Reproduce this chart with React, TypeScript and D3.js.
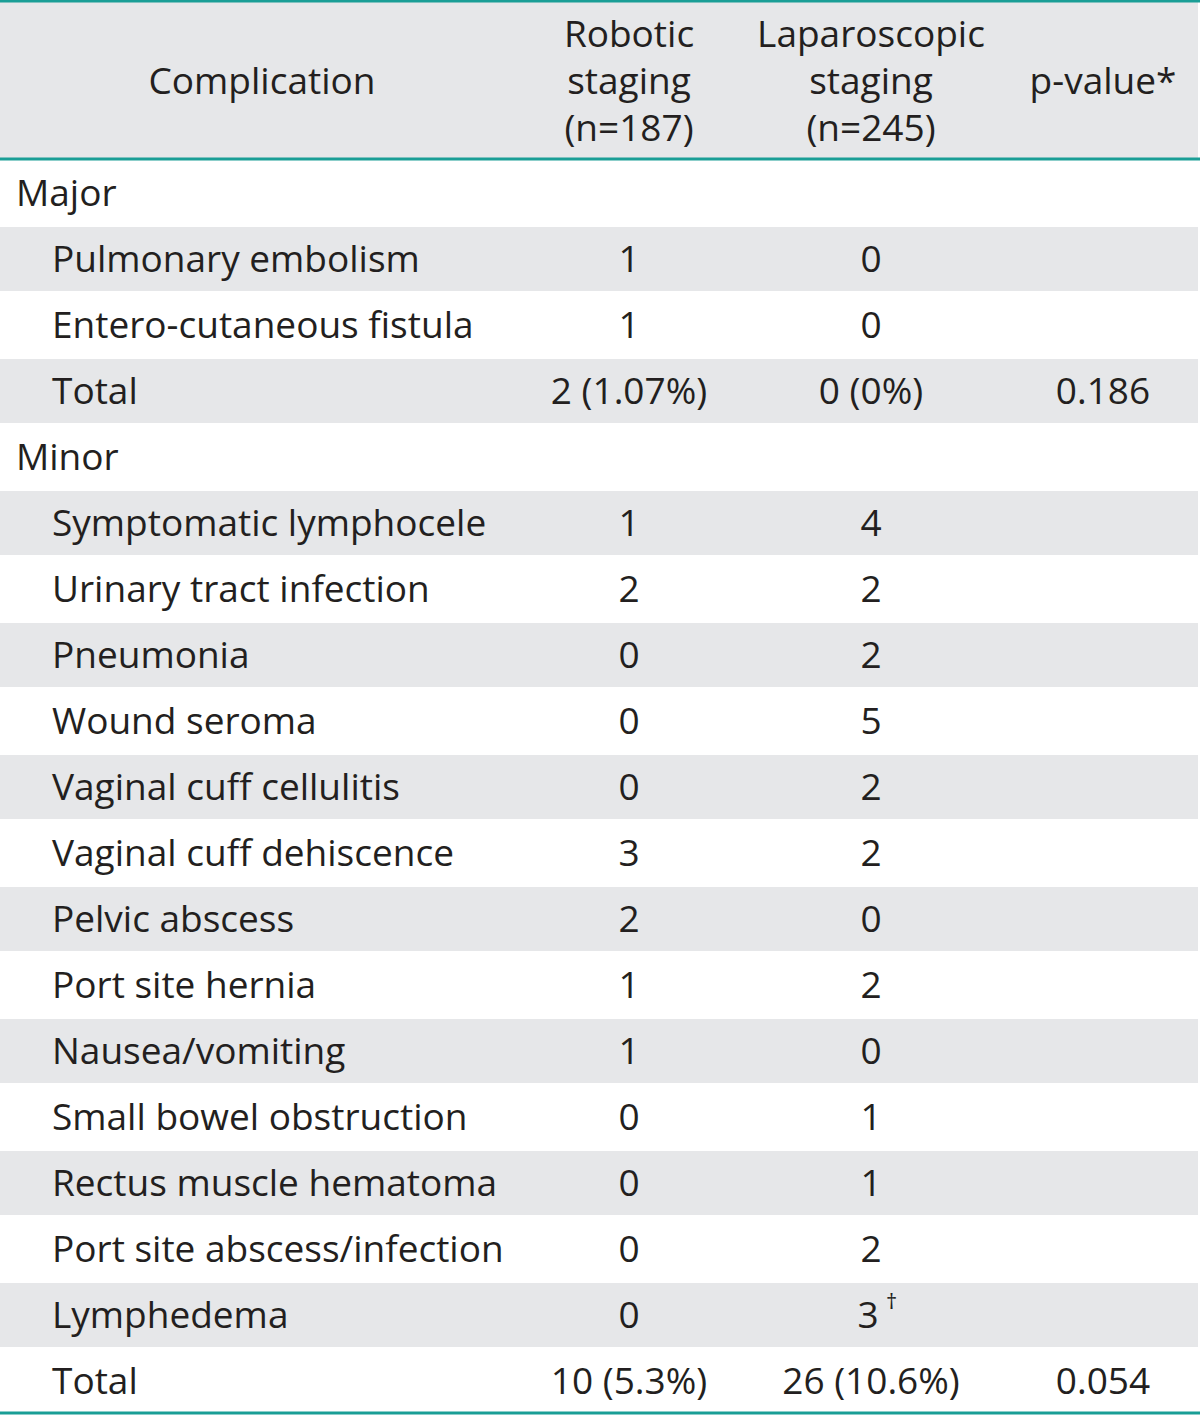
import React from "react";
import * as d3 from "d3";

const headers = [
  ["Complication"],
  ["Robotic", "staging", "(n=187)"],
  ["Laparoscopic", "staging", "(n=245)"],
  ["p-value*"],
];

const complications = [
  "Major",
  "Pulmonary embolism",
  "Entero-cutaneous fistula",
  "Total",
  "Minor",
  "Symptomatic lymphocele",
  "Urinary tract infection",
  "Pneumonia",
  "Wound seroma",
  "Vaginal cuff cellulitis",
  "Vaginal cuff dehiscence",
  "Pelvic abscess",
  "Port site hernia",
  "Nausea/vomiting",
  "Small bowel obstruction",
  "Rectus muscle hematoma",
  "Port site abscess/infection",
  "Lymphedema",
  "Total",
];
const isSection = [true, false, false, false, true, false, false, false, false, false, false, false, false, false, false, false, false, false, false];
const robotic = ["", "1", "1", "2 (1.07%)", "", "1", "2", "0", "0", "0", "3", "2", "1", "1", "0", "0", "0", "0", "10 (5.3%)"];
const laparoscopic = ["", "0", "0", "0 (0%)", "", "4", "2", "2", "5", "2", "2", "0", "2", "0", "1", "1", "2", "3", "26 (10.6%)"];
const laparoscopicNote = ["", "", "", "", "", "", "", "", "", "", "", "", "", "", "", "", "", "\u2020", ""];
const pValues = ["", "", "", "0.186", "", "", "", "", "", "", "", "", "", "", "", "", "", "", "0.054"];

const W = 1200;
const H = 1415;
const headerTop = 2;
const headerBottom = 159;
const rowH = 66;
const teal = "#1a9e96";
const gray = "#e6e7e9";
const textColor = "#231f20";
const font = "'Open Sans', 'Noto Sans', sans-serif";
const fs = 37;

export default function App() {
  const y = d3
    .scaleBand<number>()
    .domain(d3.range(complications.length))
    .range([headerBottom + 1, headerBottom + 1 + rowH * complications.length])
    .paddingInner(0);
  const colX = [262, 629, 871, 1103];
  const headerLineY = d3.scaleLinear().domain([0, 1]).range([0, 47]);

  return (
    <div style={{ position: "absolute", left: 0, top: 0 }}>
      <svg width={W} height={H} style={{ display: "block" }} fontFamily={font}>
        <rect x={0} y={0} width={W} height={H} fill="#fff" />
        <rect x={0} y={headerTop} width={W - 2} height={headerBottom - headerTop} fill={gray} />
        {complications.map((_, i) =>
          i % 2 === 1 ? (
            <rect key={"bg" + i} x={0} y={y(i)! + 1} width={W - 2} height={rowH - 2} fill={gray} />
          ) : null
        )}
        <line x1={0} x2={W} y1={1} y2={1} stroke={teal} strokeWidth={3} />
        <line x1={0} x2={W} y1={headerBottom} y2={headerBottom} stroke={teal} strokeWidth={3} />
        <line x1={0} x2={W} y1={H - 2} y2={H - 2} stroke={teal} strokeWidth={3} />
        {headers.map((lines, c) => {
          const n = lines.length;
          const mid = 81;
          return lines.map((t, k) => (
            <text
              key={"h" + c + k}
              x={colX[c]}
              y={mid + headerLineY(k - (n - 1) / 2) + 13}
              textAnchor="middle"
              fontSize={fs}
              fill={textColor}
            >
              {t}
            </text>
          ));
        })}
        {complications.map((label, i) => {
          const cy = y(i)! + rowH / 2 + 13;
          const note = laparoscopicNote[i];
          return (
            <g key={"r" + i}>
              <text x={isSection[i] ? 16 : 52} y={cy} fontSize={fs} fill={textColor}>
                {label}
              </text>
              <text x={colX[1]} y={cy} textAnchor="middle" fontSize={fs} fill={textColor}>
                {robotic[i]}
              </text>
              <text x={note ? colX[2] - 3 : colX[2]} y={cy} textAnchor="middle" fontSize={fs} fill={textColor}>
                {laparoscopic[i]}
              </text>
              {note ? (
                <text x={colX[2] + 15} y={cy - 19} fontSize={22} fill={textColor}>
                  {note}
                </text>
              ) : null}
              <text x={colX[3]} y={cy} textAnchor="middle" fontSize={fs} fill={textColor}>
                {pValues[i]}
              </text>
            </g>
          );
        })}
      </svg>
    </div>
  );
}
